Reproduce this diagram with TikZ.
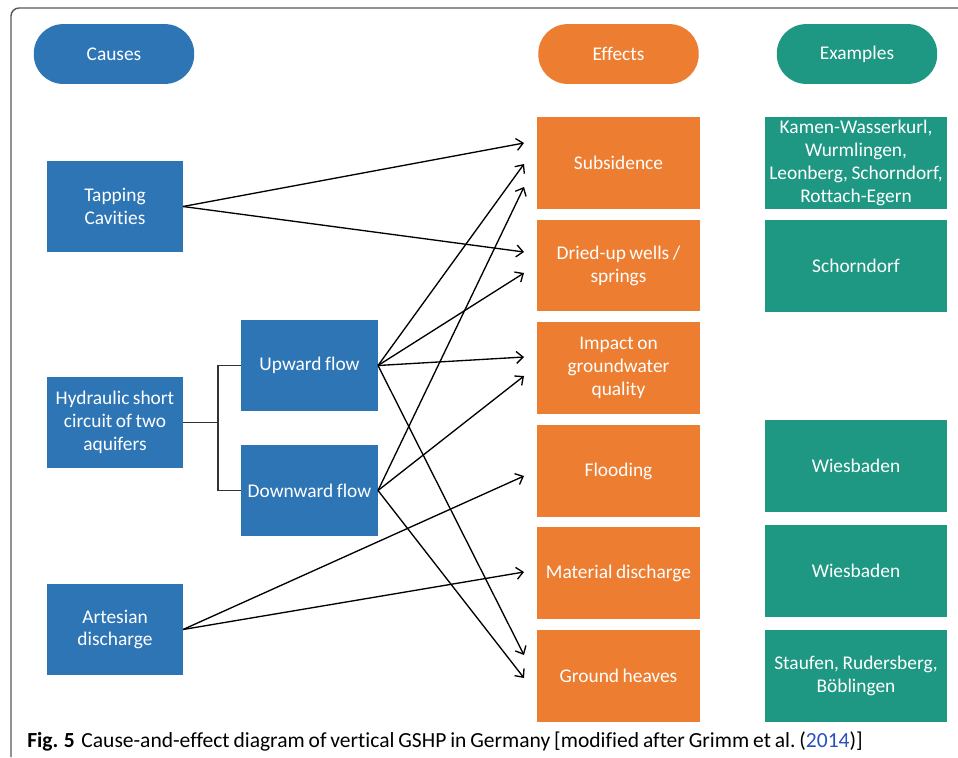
\documentclass[tikz,border=0pt]{standalone}
\usepackage{fontspec}
\setmainfont[Ligatures=NoCommon, WordSpace=0.8]{Carlito}
\usetikzlibrary{arrows.meta}

\definecolor{causeblue}{RGB}{46,117,182}
\definecolor{effectorange}{RGB}{237,125,49}
\definecolor{exampleteal}{RGB}{30,152,131}
\definecolor{linkblue}{RGB}{40,80,190}

\begin{document}
\begin{tikzpicture}[x=0.02646cm, y=-0.02646cm,
    >={Straight Barb[length=5pt,width=9pt]},
    box/.style={text=white, align=center, inner sep=1pt,
        font=\fontsize{14.6}{17.25}\selectfont},
    pill/.style={box, rounded corners=22pt, minimum width=120.75pt, minimum height=45pt},
    cause/.style={box, fill=causeblue, minimum width=102pt, minimum height=68.25pt},
    flow/.style={box, fill=causeblue, minimum width=102.75pt, minimum height=68.25pt},
    effect/.style={box, fill=effectorange, minimum width=122.25pt, minimum height=69pt},
    example/.style={box, fill=exampleteal, minimum width=137.25pt, minimum height=69pt},
    link/.style={->, line width=1pt},
    bracket/.style={line width=1pt, black!80}]

\useasboundingbox (0,0) rectangle (958,757);

% Frame
\draw[black!65, line width=1.1pt, rounded corners=6pt] (11,757) -- (11,8) -- (958,8);

% Headers
\node[pill, fill=causeblue] (causes) at (114,54) {Causes};
\node[pill, fill=effectorange] (effects) at (618.5,54) {Effects};
\node[pill, fill=exampleteal] (examples) at (857,54) {Examples};

% Causes
\node[cause] (tap) at (115,206.5) {Tapping\\Cavities};
\node[cause] (hyd) at (115,422.5) {Hydraulic short\\circuit of two\\aquifers};
\node[cause] (art) at (115,629.5) {Artesian\\discharge};

\node[flow] (up) at (309.5,365.5) {Upward flow};
\node[flow] (down) at (309.5,490.5) {Downward flow};

% Effects
\node[effect] (sub) at (618.5,163) {Subsidence};
\node[effect] (dry) at (618.5,265.5) {Dried-up wells /\\springs};
\node[effect] (imp) at (618.5,368) {Impact on\\groundwater\\quality};
\node[effect] (flood) at (618.5,471) {Flooding};
\node[effect] (mat) at (618.5,573) {Material discharge};
\node[effect] (heave) at (618.5,676) {Ground heaves};

% Examples
\node[example] (exsub) at (856,163) {Kamen-Wasserkurl,\\Wurmlingen,\\Leonberg, Schorndorf,\\Rottach-Egern};
\node[example] (exdry) at (856,266) {Schorndorf};
\node[example] (exflood) at (856,466) {Wiesbaden};
\node[example] (exmat) at (856,571) {Wiesbaden};
\node[example] (exheave) at (856,676) {Staufen, Rudersberg,\\Böblingen};

% Arrow tips
\coordinate (sub1) at (524,143);
\coordinate (sub2) at (524,164);
\coordinate (sub3) at (524,187);
\coordinate (dry1) at (524,252);
\coordinate (dry2) at (524,273);
\coordinate (imp1) at (524,357);
\coordinate (imp2) at (524,376);
\coordinate (flood1) at (524,476);
\coordinate (mat1) at (524,572);
\coordinate (heave1) at (524,655);
\coordinate (heave2) at (524,678);

% Bracket
\draw[bracket] (hyd.east) -- ++(35,0);
\draw[bracket] (up.west) -- ++(-23,0) |- (down.west);

% Links
\draw[link] (tap.east) -- (sub1);
\draw[link] (tap.east) -- (dry1);

\draw[link] (up.east) -- (sub2);
\draw[link] (up.east) -- (dry2);
\draw[link] (up.east) -- (imp1);
\draw[link] (up.east) -- (heave1);

\draw[link] (down.east) -- (sub3);
\draw[link] (down.east) -- (imp2);
\draw[link] (down.east) -- (heave2);

\draw[link] (art.east) -- (flood1);
\draw[link] (art.east) -- (mat1);

% Caption
\node[anchor=base west, inner sep=0pt, font=\fontsize{16.2}{18}\selectfont] (caption) at (27,747)
    {\textbf{Fig. 5}\hspace{5pt}Cause-and-effect diagram of vertical GSHP in Germany [modified after Grimm et al.\ (\textcolor{linkblue}{2014})]};

\end{tikzpicture}
\end{document}
